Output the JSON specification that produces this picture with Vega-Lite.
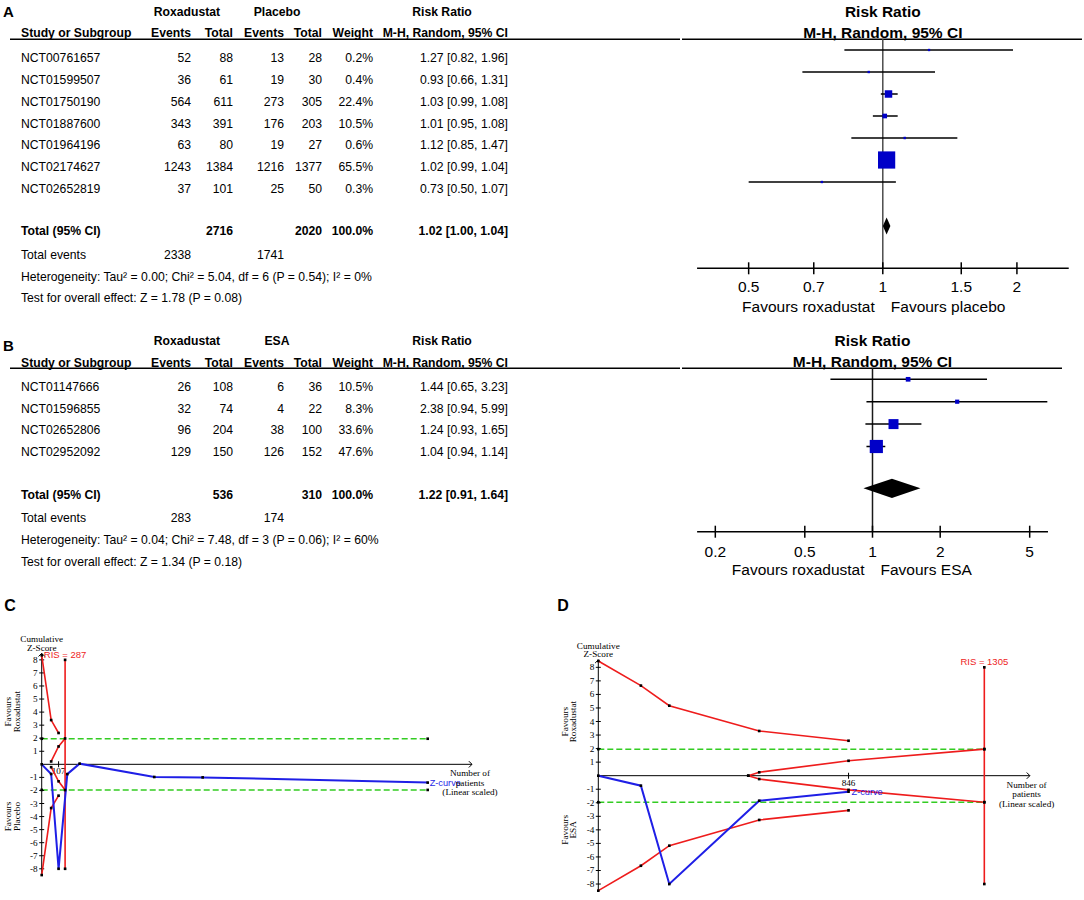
{
"$schema": "https://vega.github.io/schema/vega-lite/v6.json",
"padding": 0,
"spacing": 0,
"background": "white",
"config": {"view": {"stroke": null}, "text": {"font": "Liberation Sans", "fontSize": 12.2, "color": "black"}},
"datasets": {
"cols": [{"key":"study","col":2},{"key":"g1","col":3},{"key":"e1","col":4},{"key":"t1","col":5},{"key":"g2","col":6},{"key":"e2","col":7},{"key":"t2","col":8},{"key":"w","col":9},{"key":"g3","col":10},{"key":"ci","col":11}],
"tabA": [
{"row":-2,"kind":"group","g1":"Roxadustat","g2":"Placebo","g3":"Risk Ratio"},
{"row":-1,"kind":"header","study":"Study or Subgroup","e1":"Events","t1":"Total","e2":"Events","t2":"Total","w":"Weight","ci":"M-H, Random, 95% CI"},
{"row":0,"kind":"study","study":"NCT00761657","e1":"52","t1":"88","e2":"13","t2":"28","w":"0.2%","ci":"1.27 [0.82, 1.96]"},
{"row":1,"kind":"study","study":"NCT01599507","e1":"36","t1":"61","e2":"19","t2":"30","w":"0.4%","ci":"0.93 [0.66, 1.31]"},
{"row":2,"kind":"study","study":"NCT01750190","e1":"564","t1":"611","e2":"273","t2":"305","w":"22.4%","ci":"1.03 [0.99, 1.08]"},
{"row":3,"kind":"study","study":"NCT01887600","e1":"343","t1":"391","e2":"176","t2":"203","w":"10.5%","ci":"1.01 [0.95, 1.08]"},
{"row":4,"kind":"study","study":"NCT01964196","e1":"63","t1":"80","e2":"19","t2":"27","w":"0.6%","ci":"1.12 [0.85, 1.47]"},
{"row":5,"kind":"study","study":"NCT02174627","e1":"1243","t1":"1384","e2":"1216","t2":"1377","w":"65.5%","ci":"1.02 [0.99, 1.04]"},
{"row":6,"kind":"study","study":"NCT02652819","e1":"37","t1":"101","e2":"25","t2":"50","w":"0.3%","ci":"0.73 [0.50, 1.07]"},
{"row":8,"kind":"total","study":"Total (95% CI)","t1":"2716","t2":"2020","w":"100.0%","ci":"1.02 [1.00, 1.04]"},
{"row":9,"kind":"events","study":"Total events","e1":"2338","e2":"1741"},
{"row":10,"kind":"note","study":"Heterogeneity: Tau² = 0.00; Chi² = 5.04, df = 6 (P = 0.54); I² = 0%"},
{"row":11,"kind":"note","study":"Test for overall effect: Z = 1.78 (P = 0.08)"}
],
"tabB": [
{"row":-2,"kind":"group","g1":"Roxadustat","g2":"ESA","g3":"Risk Ratio"},
{"row":-1,"kind":"header","study":"Study or Subgroup","e1":"Events","t1":"Total","e2":"Events","t2":"Total","w":"Weight","ci":"M-H, Random, 95% CI"},
{"row":0,"kind":"study","study":"NCT01147666","e1":"26","t1":"108","e2":"6","t2":"36","w":"10.5%","ci":"1.44 [0.65, 3.23]"},
{"row":1,"kind":"study","study":"NCT01596855","e1":"32","t1":"74","e2":"4","t2":"22","w":"8.3%","ci":"2.38 [0.94, 5.99]"},
{"row":2,"kind":"study","study":"NCT02652806","e1":"96","t1":"204","e2":"38","t2":"100","w":"33.6%","ci":"1.24 [0.93, 1.65]"},
{"row":3,"kind":"study","study":"NCT02952092","e1":"129","t1":"150","e2":"126","t2":"152","w":"47.6%","ci":"1.04 [0.94, 1.14]"},
{"row":5,"kind":"total","study":"Total (95% CI)","t1":"536","t2":"310","w":"100.0%","ci":"1.22 [0.91, 1.64]"},
{"row":6,"kind":"events","study":"Total events","e1":"283","e2":"174"},
{"row":7,"kind":"note","study":"Heterogeneity: Tau² = 0.04; Chi² = 7.48, df = 3 (P = 0.06); I² = 60%"},
{"row":8,"kind":"note","study":"Test for overall effect: Z = 1.34 (P = 0.18)"}
],
"forA": [
{"row":0,"rr":1.27,"lo":0.82,"hi":1.96,"w":0.2},
{"row":1,"rr":0.93,"lo":0.66,"hi":1.31,"w":0.4},
{"row":2,"rr":1.03,"lo":0.99,"hi":1.08,"w":22.4},
{"row":3,"rr":1.01,"lo":0.95,"hi":1.08,"w":10.5},
{"row":4,"rr":1.12,"lo":0.85,"hi":1.47,"w":0.6},
{"row":5,"rr":1.02,"lo":0.99,"hi":1.04,"w":65.5},
{"row":6,"rr":0.73,"lo":0.50,"hi":1.07,"w":0.3}
],
"totA": [{"row":8,"rr":1.02,"lo":1.00,"hi":1.04}],
"forB": [
{"row":0,"rr":1.44,"lo":0.65,"hi":3.23,"w":10.5},
{"row":1,"rr":2.38,"lo":0.94,"hi":5.99,"w":8.3},
{"row":2,"rr":1.24,"lo":0.93,"hi":1.65,"w":33.6},
{"row":3,"rr":1.04,"lo":0.94,"hi":1.14,"w":47.6}
],
"totB": [{"row":5,"rr":1.22,"lo":0.91,"hi":1.64}],
"ticksA": [{"v":0.5,"l":"0.5"},{"v":0.7,"l":"0.7"},{"v":1,"l":"1"},{"v":1.5,"l":"1.5"},{"v":2,"l":"2"}],
"ticksB": [{"v":0.2,"l":"0.2"},{"v":0.5,"l":"0.5"},{"v":1,"l":"1"},{"v":2,"l":"2"},{"v":5,"l":"5"}],
"zt": [{"v":-8,"l":"-8"},{"v":-7,"l":"-7"},{"v":-6,"l":"-6"},{"v":-5,"l":"-5"},{"v":-4,"l":"-4"},{"v":-3,"l":"-3"},{"v":-2,"l":"-2"},{"v":-1,"l":"-1"},{"v":1,"l":"1"},{"v":2,"l":"2"},{"v":3,"l":"3"},{"v":4,"l":"4"},{"v":5,"l":"5"},{"v":6,"l":"6"},{"v":7,"l":"7"},{"v":8,"l":"8"}],
"tsaC": [
{"s":"up","n":0,"z":8.35},{"s":"up","n":116,"z":3.39},{"s":"up","n":207,"z":2.4},
{"s":"lo","n":0,"z":-8.48},{"s":"lo","n":116,"z":-3.35},{"s":"lo","n":207,"z":-2.4},
{"s":"iu","n":116,"z":0.22},{"s":"iu","n":207,"z":1.37},{"s":"iu","n":287,"z":1.98},
{"s":"il","n":116,"z":-0.22},{"s":"il","n":207,"z":-1.3},{"s":"il","n":287,"z":-1.97},
{"s":"ris","n":287,"z":8},{"s":"ris","n":287,"z":-8},
{"s":"z","n":0,"z":0},{"s":"z","n":116,"z":-0.74},{"s":"z","n":207,"z":-8},{"s":"z","n":314,"z":-0.75},{"s":"z","n":465,"z":0.05},{"s":"z","n":1381,"z":-0.97},{"s":"z","n":1975,"z":-1.0},{"s":"z","n":4736,"z":-1.4},
{"s":"gu","n":0,"z":1.96},{"s":"gu","n":4736,"z":1.96},
{"s":"gl","n":0,"z":-1.96},{"s":"gl","n":4736,"z":-1.96}
],
"tsaD": [
{"s":"up","n":0,"z":8.47},{"s":"up","n":144,"z":6.65},{"s":"up","n":240,"z":5.17},{"s":"up","n":544,"z":3.3},{"s":"up","n":846,"z":2.58},
{"s":"lo","n":0,"z":-8.49},{"s":"lo","n":144,"z":-6.65},{"s":"lo","n":240,"z":-5.17},{"s":"lo","n":544,"z":-3.27},{"s":"lo","n":846,"z":-2.56},
{"s":"iu","n":507,"z":0},{"s":"iu","n":544,"z":0.25},{"s":"iu","n":846,"z":1.1},{"s":"iu","n":1305,"z":1.96},
{"s":"il","n":507,"z":0},{"s":"il","n":544,"z":-0.25},{"s":"il","n":846,"z":-1.05},{"s":"il","n":1305,"z":-1.96},
{"s":"ris","n":1305,"z":8},{"s":"ris","n":1305,"z":-8},
{"s":"z","n":0,"z":0},{"s":"z","n":144,"z":-0.74},{"s":"z","n":240,"z":-8},{"s":"z","n":544,"z":-1.85},{"s":"z","n":846,"z":-1.18},
{"s":"gu","n":0,"z":1.96},{"s":"gu","n":1305,"z":1.96},
{"s":"gl","n":0,"z":-1.96},{"s":"gl","n":1305,"z":-1.96}
]
},
"vconcat": [
{"hconcat": [
{"width": 680, "height": 320,
 "layer": [
  {"data": {"name": "tabA"},
   "transform": [
    {"fold": ["study","g1","e1","t1","g2","e2","t2","w","g3","ci"], "as": ["key","text"]},
    {"filter": "isValid(datum.text)"},
    {"lookup": "key", "from": {"data": {"name": "cols"}, "key": "key", "fields": ["col"]}}
   ],
   "layer": [
    {"transform": [{"filter": "datum.key == 'study' && datum.kind != 'header' && datum.kind != 'total'"}],
     "mark": {"type": "text", "align": "left", "baseline": "middle"},
     "encoding": {"x": {"field": "col", "type": "quantitative", "axis": null, "scale": {"domain": [0,1,2,3,4,5,6,7,8,9,10,11,12], "range": [3,10,21,187,191,233,277,284,322,373,442,508,680], "nice": false, "zero": false}},
                  "y": {"field": "row", "type": "quantitative", "axis": null, "scale": {"domain": [-2,-1,-0.5,0,6,8,9,10,11], "range": [12.3,33.3,39.3,57.7,189.3,231,255,276.7,298.3], "nice": false, "zero": false}},
                  "text": {"field": "text"}}},
    {"transform": [{"filter": "datum.key == 'study' && (datum.kind == 'header' || datum.kind == 'total')"}],
     "mark": {"type": "text", "align": "left", "baseline": "middle", "fontWeight": "bold"},
     "encoding": {"x": {"field": "col", "type": "quantitative", "axis": null, "scale": {"domain": [0,1,2,3,4,5,6,7,8,9,10,11,12], "range": [3,10,21,187,191,233,277,284,322,373,442,508,680], "nice": false, "zero": false}},
                  "y": {"field": "row", "type": "quantitative", "axis": null, "scale": {"domain": [-2,-1,-0.5,0,6,8,9,10,11], "range": [12.3,33.3,39.3,57.7,189.3,231,255,276.7,298.3], "nice": false, "zero": false}},
                  "text": {"field": "text"}}},
    {"transform": [{"filter": "indexof(['e1','t1','e2','t2','w','ci'], datum.key) >= 0 && datum.kind != 'header' && datum.kind != 'total'"}],
     "mark": {"type": "text", "align": "right", "baseline": "middle"},
     "encoding": {"x": {"field": "col", "type": "quantitative", "axis": null, "scale": {"domain": [0,1,2,3,4,5,6,7,8,9,10,11,12], "range": [3,10,21,187,191,233,277,284,322,373,442,508,680], "nice": false, "zero": false}},
                  "y": {"field": "row", "type": "quantitative", "axis": null, "scale": {"domain": [-2,-1,-0.5,0,6,8,9,10,11], "range": [12.3,33.3,39.3,57.7,189.3,231,255,276.7,298.3], "nice": false, "zero": false}},
                  "text": {"field": "text"}}},
    {"transform": [{"filter": "indexof(['e1','t1','e2','t2','w','ci'], datum.key) >= 0 && (datum.kind == 'header' || datum.kind == 'total')"}],
     "mark": {"type": "text", "align": "right", "baseline": "middle", "fontWeight": "bold"},
     "encoding": {"x": {"field": "col", "type": "quantitative", "axis": null, "scale": {"domain": [0,1,2,3,4,5,6,7,8,9,10,11,12], "range": [3,10,21,187,191,233,277,284,322,373,442,508,680], "nice": false, "zero": false}},
                  "y": {"field": "row", "type": "quantitative", "axis": null, "scale": {"domain": [-2,-1,-0.5,0,6,8,9,10,11], "range": [12.3,33.3,39.3,57.7,189.3,231,255,276.7,298.3], "nice": false, "zero": false}},
                  "text": {"field": "text"}}},
    {"transform": [{"filter": "indexof(['g1','g2','g3'], datum.key) >= 0"}],
     "mark": {"type": "text", "align": "center", "baseline": "middle", "fontWeight": "bold"},
     "encoding": {"x": {"field": "col", "type": "quantitative", "axis": null, "scale": {"domain": [0,1,2,3,4,5,6,7,8,9,10,11,12], "range": [3,10,21,187,191,233,277,284,322,373,442,508,680], "nice": false, "zero": false}},
                  "y": {"field": "row", "type": "quantitative", "axis": null, "scale": {"domain": [-2,-1,-0.5,0,6,8,9,10,11], "range": [12.3,33.3,39.3,57.7,189.3,231,255,276.7,298.3], "nice": false, "zero": false}},
                  "text": {"field": "text"}}}
   ]},
  {"data": {"values": [{"label": "A"}]},
   "mark": {"type": "text", "align": "left", "baseline": "middle", "fontWeight": "bold", "fontSize": 15},
   "encoding": {"x": {"datum": 0, "type": "quantitative", "axis": null, "scale": {"domain": [0,1,2,3,4,5,6,7,8,9,10,11,12], "range": [3,10,21,187,191,233,277,284,322,373,442,508,680], "nice": false, "zero": false}},
                "y": {"datum": -2, "type": "quantitative", "axis": null, "scale": {"domain": [-2,-1,-0.5,0,6,8,9,10,11], "range": [12.3,33.3,39.3,57.7,189.3,231,255,276.7,298.3], "nice": false, "zero": false}},
                "text": {"field": "label"}}},
  {"data": {"values": [{}]},
   "mark": {"type": "rule", "strokeWidth": 1.6, "color": "black"},
   "encoding": {"x": {"datum": 1, "type": "quantitative", "axis": null, "scale": {"domain": [0,1,2,3,4,5,6,7,8,9,10,11,12], "range": [3,10,21,187,191,233,277,284,322,373,442,508,680], "nice": false, "zero": false}},
                "x2": {"datum": 12},
                "y": {"datum": -0.5, "type": "quantitative", "axis": null, "scale": {"domain": [-2,-1,-0.5,0,6,8,9,10,11], "range": [12.3,33.3,39.3,57.7,189.3,231,255,276.7,298.3], "nice": false, "zero": false}}}}
 ]},
{"width": 404, "height": 320,
 "layer": [
  {"data": {"values": [{"row": -2, "t": "Risk Ratio"}, {"row": -1, "t": "M-H, Random, 95% CI"}]},
   "mark": {"type": "text", "fontWeight": "bold", "fontSize": 15.5, "align": "center", "baseline": "middle"},
   "encoding": {"x": {"datum": 1, "type": "quantitative", "axis": null, "scale": {"type": "log", "domain": [0.3543, 2.858], "nice": false}},
                "y": {"field": "row", "type": "quantitative", "axis": null, "scale": {"domain": [-2,-1,-0.5,0,6,8,9,10,11], "range": [12.3,33.3,39.3,50,182,226,268.3,287.3,307.3], "nice": false, "zero": false}},
                "text": {"field": "t"}}},
  {"data": {"values": [{}]},
   "mark": {"type": "rule", "strokeWidth": 1.6, "color": "black"},
   "encoding": {"x": {"datum": 0.3543, "type": "quantitative", "axis": null, "scale": {"type": "log", "domain": [0.3543, 2.858], "nice": false}},
                "x2": {"datum": 2.799},
                "y": {"datum": -0.5, "type": "quantitative", "axis": null, "scale": {"domain": [-2,-1,-0.5,0,6,8,9,10,11], "range": [12.3,33.3,39.3,50,182,226,268.3,287.3,307.3], "nice": false, "zero": false}}}},
  {"data": {"values": [{}]},
   "mark": {"type": "rule", "strokeWidth": 1.5, "color": "#4d4d4d"},
   "encoding": {"x": {"datum": 1, "type": "quantitative", "axis": null, "scale": {"type": "log", "domain": [0.3543, 2.858], "nice": false}},
                "y": {"datum": -0.5, "type": "quantitative", "axis": null, "scale": {"domain": [-2,-1,-0.5,0,6,8,9,10,11], "range": [12.3,33.3,39.3,50,182,226,268.3,287.3,307.3], "nice": false, "zero": false}},
                "y2": {"datum": 9}}},
  {"data": {"name": "forA"},
   "mark": {"type": "rule", "strokeWidth": 1.5, "color": "black"},
   "encoding": {"x": {"field": "lo", "type": "quantitative", "axis": null, "scale": {"type": "log", "domain": [0.3543, 2.858], "nice": false}},
                "x2": {"field": "hi"},
                "y": {"field": "row", "type": "quantitative", "axis": null, "scale": {"domain": [-2,-1,-0.5,0,6,8,9,10,11], "range": [12.3,33.3,39.3,50,182,226,268.3,287.3,307.3], "nice": false, "zero": false}}}},
  {"data": {"name": "forA"},
   "mark": {"type": "square", "color": "#0000c8", "opacity": 1, "strokeWidth": 0},
   "encoding": {"x": {"field": "rr", "type": "quantitative", "axis": null, "scale": {"type": "log", "domain": [0.3543, 2.858], "nice": false}},
                "y": {"field": "row", "type": "quantitative", "axis": null, "scale": {"domain": [-2,-1,-0.5,0,6,8,9,10,11], "range": [12.3,33.3,39.3,50,182,226,268.3,287.3,307.3], "nice": false, "zero": false}},
                "size": {"field": "w", "type": "quantitative", "legend": null, "scale": {"domain": [0,5,10,20,35,50,66], "range": [5.15,11.6,20.7,46.6,105.1,186.9,300], "zero": false, "nice": false}}}},
  {"data": {"name": "totA"},
   "mark": {"type": "point", "shape": "M-0.44,0L0,-1L0.44,0L0,1Z", "filled": true, "color": "black", "opacity": 1, "size": 289},
   "encoding": {"x": {"field": "rr", "type": "quantitative", "axis": null, "scale": {"type": "log", "domain": [0.3543, 2.858], "nice": false}},
                "y": {"field": "row", "type": "quantitative", "axis": null, "scale": {"domain": [-2,-1,-0.5,0,6,8,9,10,11], "range": [12.3,33.3,39.3,50,182,226,268.3,287.3,307.3], "nice": false, "zero": false}}}},
  {"data": {"values": [{}]},
   "mark": {"type": "rule", "strokeWidth": 1.5, "color": "black"},
   "encoding": {"x": {"datum": 0.383, "type": "quantitative", "axis": null, "scale": {"type": "log", "domain": [0.3543, 2.858], "nice": false}},
                "x2": {"datum": 2.614},
                "y": {"datum": 9, "type": "quantitative", "axis": null, "scale": {"domain": [-2,-1,-0.5,0,6,8,9,10,11], "range": [12.3,33.3,39.3,50,182,226,268.3,287.3,307.3], "nice": false, "zero": false}}}},
  {"data": {"name": "ticksA"},
   "mark": {"type": "tick", "orient": "vertical", "size": 12, "thickness": 1.5, "color": "black", "opacity": 1},
   "encoding": {"x": {"field": "v", "type": "quantitative", "axis": null, "scale": {"type": "log", "domain": [0.3543, 2.858], "nice": false}},
                "y": {"datum": 9, "type": "quantitative", "axis": null, "scale": {"domain": [-2,-1,-0.5,0,6,8,9,10,11], "range": [12.3,33.3,39.3,50,182,226,268.3,287.3,307.3], "nice": false, "zero": false}}}},
  {"data": {"name": "ticksA"},
   "mark": {"type": "text", "fontSize": 15.5, "align": "center", "baseline": "middle"},
   "encoding": {"x": {"field": "v", "type": "quantitative", "axis": null, "scale": {"type": "log", "domain": [0.3543, 2.858], "nice": false}},
                "y": {"datum": 10, "type": "quantitative", "axis": null, "scale": {"domain": [-2,-1,-0.5,0,6,8,9,10,11], "range": [12.3,33.3,39.3,50,182,226,268.3,287.3,307.3], "nice": false, "zero": false}},
                "text": {"field": "l"}}},
  {"data": {"values": [{"t": "Favours roxadustat"}]},
   "mark": {"type": "text", "fontSize": 15.5, "align": "right", "baseline": "middle", "dx": -8},
   "encoding": {"x": {"datum": 1, "type": "quantitative", "axis": null, "scale": {"type": "log", "domain": [0.3543, 2.858], "nice": false}},
                "y": {"datum": 11, "type": "quantitative", "axis": null, "scale": {"domain": [-2,-1,-0.5,0,6,8,9,10,11], "range": [12.3,33.3,39.3,50,182,226,268.3,287.3,307.3], "nice": false, "zero": false}},
                "text": {"field": "t"}}},
  {"data": {"values": [{"t": "Favours placebo"}]},
   "mark": {"type": "text", "fontSize": 15.5, "align": "left", "baseline": "middle", "dx": 8},
   "encoding": {"x": {"datum": 1, "type": "quantitative", "axis": null, "scale": {"type": "log", "domain": [0.3543, 2.858], "nice": false}},
                "y": {"datum": 11, "type": "quantitative", "axis": null, "scale": {"domain": [-2,-1,-0.5,0,6,8,9,10,11], "range": [12.3,33.3,39.3,50,182,226,268.3,287.3,307.3], "nice": false, "zero": false}},
                "text": {"field": "t"}}}
 ]}
], "spacing": 0},
{"hconcat": [
{"width": 680, "height": 270,
 "layer": [
  {"data": {"name": "tabB"},
   "transform": [
    {"fold": ["study","g1","e1","t1","g2","e2","t2","w","g3","ci"], "as": ["key","text"]},
    {"filter": "isValid(datum.text)"},
    {"lookup": "key", "from": {"data": {"name": "cols"}, "key": "key", "fields": ["col"]}}
   ],
   "layer": [
    {"transform": [{"filter": "datum.key == 'study' && datum.kind != 'header' && datum.kind != 'total'"}],
     "mark": {"type": "text", "align": "left", "baseline": "middle"},
     "encoding": {"x": {"field": "col", "type": "quantitative", "axis": null, "scale": {"domain": [0,1,2,3,4,5,6,7,8,9,10,11,12], "range": [3,10,21,187,191,233,277,284,322,373,442,508,680], "nice": false, "zero": false}},
                  "y": {"field": "row", "type": "quantitative", "axis": null, "scale": {"domain": [-2,-1,-0.5,0,3,5,6,7,8], "range": [21,42.7,48.3,66.7,132.3,175,198.3,220,241.7], "nice": false, "zero": false}},
                  "text": {"field": "text"}}},
    {"transform": [{"filter": "datum.key == 'study' && (datum.kind == 'header' || datum.kind == 'total')"}],
     "mark": {"type": "text", "align": "left", "baseline": "middle", "fontWeight": "bold"},
     "encoding": {"x": {"field": "col", "type": "quantitative", "axis": null, "scale": {"domain": [0,1,2,3,4,5,6,7,8,9,10,11,12], "range": [3,10,21,187,191,233,277,284,322,373,442,508,680], "nice": false, "zero": false}},
                  "y": {"field": "row", "type": "quantitative", "axis": null, "scale": {"domain": [-2,-1,-0.5,0,3,5,6,7,8], "range": [21,42.7,48.3,66.7,132.3,175,198.3,220,241.7], "nice": false, "zero": false}},
                  "text": {"field": "text"}}},
    {"transform": [{"filter": "indexof(['e1','t1','e2','t2','w','ci'], datum.key) >= 0 && datum.kind != 'header' && datum.kind != 'total'"}],
     "mark": {"type": "text", "align": "right", "baseline": "middle"},
     "encoding": {"x": {"field": "col", "type": "quantitative", "axis": null, "scale": {"domain": [0,1,2,3,4,5,6,7,8,9,10,11,12], "range": [3,10,21,187,191,233,277,284,322,373,442,508,680], "nice": false, "zero": false}},
                  "y": {"field": "row", "type": "quantitative", "axis": null, "scale": {"domain": [-2,-1,-0.5,0,3,5,6,7,8], "range": [21,42.7,48.3,66.7,132.3,175,198.3,220,241.7], "nice": false, "zero": false}},
                  "text": {"field": "text"}}},
    {"transform": [{"filter": "indexof(['e1','t1','e2','t2','w','ci'], datum.key) >= 0 && (datum.kind == 'header' || datum.kind == 'total')"}],
     "mark": {"type": "text", "align": "right", "baseline": "middle", "fontWeight": "bold"},
     "encoding": {"x": {"field": "col", "type": "quantitative", "axis": null, "scale": {"domain": [0,1,2,3,4,5,6,7,8,9,10,11,12], "range": [3,10,21,187,191,233,277,284,322,373,442,508,680], "nice": false, "zero": false}},
                  "y": {"field": "row", "type": "quantitative", "axis": null, "scale": {"domain": [-2,-1,-0.5,0,3,5,6,7,8], "range": [21,42.7,48.3,66.7,132.3,175,198.3,220,241.7], "nice": false, "zero": false}},
                  "text": {"field": "text"}}},
    {"transform": [{"filter": "indexof(['g1','g2','g3'], datum.key) >= 0"}],
     "mark": {"type": "text", "align": "center", "baseline": "middle", "fontWeight": "bold"},
     "encoding": {"x": {"field": "col", "type": "quantitative", "axis": null, "scale": {"domain": [0,1,2,3,4,5,6,7,8,9,10,11,12], "range": [3,10,21,187,191,233,277,284,322,373,442,508,680], "nice": false, "zero": false}},
                  "y": {"field": "row", "type": "quantitative", "axis": null, "scale": {"domain": [-2,-1,-0.5,0,3,5,6,7,8], "range": [21,42.7,48.3,66.7,132.3,175,198.3,220,241.7], "nice": false, "zero": false}},
                  "text": {"field": "text"}}}
   ]},
  {"data": {"values": [{"label": "B"}]},
   "mark": {"type": "text", "align": "left", "baseline": "middle", "fontWeight": "bold", "fontSize": 15},
   "encoding": {"x": {"datum": 0, "type": "quantitative", "axis": null, "scale": {"domain": [0,1,2,3,4,5,6,7,8,9,10,11,12], "range": [3,10,21,187,191,233,277,284,322,373,442,508,680], "nice": false, "zero": false}},
                "y": {"datum": -1.78, "type": "quantitative", "axis": null, "scale": {"domain": [-2,-1,-0.5,0,3,5,6,7,8], "range": [21,42.7,48.3,66.7,132.3,175,198.3,220,241.7], "nice": false, "zero": false}},
                "text": {"field": "label"}}},
  {"data": {"values": [{}]},
   "mark": {"type": "rule", "strokeWidth": 1.6, "color": "black"},
   "encoding": {"x": {"datum": 1, "type": "quantitative", "axis": null, "scale": {"domain": [0,1,2,3,4,5,6,7,8,9,10,11,12], "range": [3,10,21,187,191,233,277,284,322,373,442,508,680], "nice": false, "zero": false}},
                "x2": {"datum": 12},
                "y": {"datum": -0.5, "type": "quantitative", "axis": null, "scale": {"domain": [-2,-1,-0.5,0,3,5,6,7,8], "range": [21,42.7,48.3,66.7,132.3,175,198.3,220,241.7], "nice": false, "zero": false}}}}
 ]},
{"width": 404, "height": 270,
 "layer": [
  {"data": {"values": [{"row": -2, "t": "Risk Ratio"}, {"row": -1, "t": "M-H, Random, 95% CI"}]},
   "mark": {"type": "text", "fontWeight": "bold", "fontSize": 15.5, "align": "center", "baseline": "middle"},
   "encoding": {"x": {"datum": 1, "type": "quantitative", "axis": null, "scale": {"type": "log", "domain": [0.1422, 8.9], "nice": false}},
                "y": {"field": "row", "type": "quantitative", "axis": null, "scale": {"domain": [-2,-1,-0.5,0,3,5,6,7,8], "range": [20.7,42.3,48.3,59.3,126.5,168.3,211.7,231.7,250], "nice": false, "zero": false}},
                "text": {"field": "t"}}},
  {"data": {"values": [{}]},
   "mark": {"type": "rule", "strokeWidth": 1.6, "color": "black"},
   "encoding": {"x": {"datum": 0.1422, "type": "quantitative", "axis": null, "scale": {"type": "log", "domain": [0.1422, 8.9], "nice": false}},
                "x2": {"datum": 6.96},
                "y": {"datum": -0.5, "type": "quantitative", "axis": null, "scale": {"domain": [-2,-1,-0.5,0,3,5,6,7,8], "range": [20.7,42.3,48.3,59.3,126.5,168.3,211.7,231.7,250], "nice": false, "zero": false}}}},
  {"data": {"values": [{}]},
   "mark": {"type": "rule", "strokeWidth": 1.5, "color": "#1a1a1a"},
   "encoding": {"x": {"datum": 1, "type": "quantitative", "axis": null, "scale": {"type": "log", "domain": [0.1422, 8.9], "nice": false}},
                "y": {"datum": -0.5, "type": "quantitative", "axis": null, "scale": {"domain": [-2,-1,-0.5,0,3,5,6,7,8], "range": [20.7,42.3,48.3,59.3,126.5,168.3,211.7,231.7,250], "nice": false, "zero": false}},
                "y2": {"datum": 6}}},
  {"data": {"name": "forB"},
   "mark": {"type": "rule", "strokeWidth": 1.5, "color": "black"},
   "encoding": {"x": {"field": "lo", "type": "quantitative", "axis": null, "scale": {"type": "log", "domain": [0.1422, 8.9], "nice": false}},
                "x2": {"field": "hi"},
                "y": {"field": "row", "type": "quantitative", "axis": null, "scale": {"domain": [-2,-1,-0.5,0,3,5,6,7,8], "range": [20.7,42.3,48.3,59.3,126.5,168.3,211.7,231.7,250], "nice": false, "zero": false}}}},
  {"data": {"name": "forB"},
   "mark": {"type": "square", "color": "#0000c8", "opacity": 1, "strokeWidth": 0},
   "encoding": {"x": {"field": "rr", "type": "quantitative", "axis": null, "scale": {"type": "log", "domain": [0.1422, 8.9], "nice": false}},
                "y": {"field": "row", "type": "quantitative", "axis": null, "scale": {"domain": [-2,-1,-0.5,0,3,5,6,7,8], "range": [20.7,42.3,48.3,59.3,126.5,168.3,211.7,231.7,250], "nice": false, "zero": false}},
                "size": {"field": "w", "type": "quantitative", "legend": null, "scale": {"domain": [0,5,10,20,35,50,66], "range": [5.15,11.6,20.7,46.6,105.1,186.9,300], "zero": false, "nice": false}}}},
  {"data": {"name": "totB"},
   "mark": {"type": "point", "shape": "M-1,0L0,-0.337L1,0L0,0.337Z", "filled": true, "color": "black", "opacity": 1, "size": 3249},
   "encoding": {"x": {"field": "rr", "type": "quantitative", "axis": null, "scale": {"type": "log", "domain": [0.1422, 8.9], "nice": false}},
                "y": {"field": "row", "type": "quantitative", "axis": null, "scale": {"domain": [-2,-1,-0.5,0,3,5,6,7,8], "range": [20.7,42.3,48.3,59.3,126.5,168.3,211.7,231.7,250], "nice": false, "zero": false}}}},
  {"data": {"values": [{}]},
   "mark": {"type": "rule", "strokeWidth": 1.5, "color": "black"},
   "encoding": {"x": {"datum": 0.166, "type": "quantitative", "axis": null, "scale": {"type": "log", "domain": [0.1422, 8.9], "nice": false}},
                "x2": {"datum": 6.03},
                "y": {"datum": 6, "type": "quantitative", "axis": null, "scale": {"domain": [-2,-1,-0.5,0,3,5,6,7,8], "range": [20.7,42.3,48.3,59.3,126.5,168.3,211.7,231.7,250], "nice": false, "zero": false}}}},
  {"data": {"name": "ticksB"},
   "mark": {"type": "tick", "orient": "vertical", "size": 12, "thickness": 1.5, "color": "black", "opacity": 1},
   "encoding": {"x": {"field": "v", "type": "quantitative", "axis": null, "scale": {"type": "log", "domain": [0.1422, 8.9], "nice": false}},
                "y": {"datum": 6, "type": "quantitative", "axis": null, "scale": {"domain": [-2,-1,-0.5,0,3,5,6,7,8], "range": [20.7,42.3,48.3,59.3,126.5,168.3,211.7,231.7,250], "nice": false, "zero": false}}}},
  {"data": {"name": "ticksB"},
   "mark": {"type": "text", "fontSize": 15.5, "align": "center", "baseline": "middle"},
   "encoding": {"x": {"field": "v", "type": "quantitative", "axis": null, "scale": {"type": "log", "domain": [0.1422, 8.9], "nice": false}},
                "y": {"datum": 7, "type": "quantitative", "axis": null, "scale": {"domain": [-2,-1,-0.5,0,3,5,6,7,8], "range": [20.7,42.3,48.3,59.3,126.5,168.3,211.7,231.7,250], "nice": false, "zero": false}},
                "text": {"field": "l"}}},
  {"data": {"values": [{"t": "Favours roxadustat"}]},
   "mark": {"type": "text", "fontSize": 15.5, "align": "right", "baseline": "middle", "dx": -8},
   "encoding": {"x": {"datum": 1, "type": "quantitative", "axis": null, "scale": {"type": "log", "domain": [0.1422, 8.9], "nice": false}},
                "y": {"datum": 8, "type": "quantitative", "axis": null, "scale": {"domain": [-2,-1,-0.5,0,3,5,6,7,8], "range": [20.7,42.3,48.3,59.3,126.5,168.3,211.7,231.7,250], "nice": false, "zero": false}},
                "text": {"field": "t"}}},
  {"data": {"values": [{"t": "Favours ESA"}]},
   "mark": {"type": "text", "fontSize": 15.5, "align": "left", "baseline": "middle", "dx": 8},
   "encoding": {"x": {"datum": 1, "type": "quantitative", "axis": null, "scale": {"type": "log", "domain": [0.1422, 8.9], "nice": false}},
                "y": {"datum": 8, "type": "quantitative", "axis": null, "scale": {"domain": [-2,-1,-0.5,0,3,5,6,7,8], "range": [20.7,42.3,48.3,59.3,126.5,168.3,211.7,231.7,250], "nice": false, "zero": false}},
                "text": {"field": "t"}}}
 ]}
], "spacing": 0},
{"hconcat": [
{"width": 540, "height": 310,
 "layer": [
  {"data": {"name": "tsaC"}, "transform": [{"filter": "datum.s == 'gu' || datum.s == 'gl'"}],
   "mark": {"type": "line", "color": "#33cc22", "strokeWidth": 1.5, "strokeDash": [6, 3]},
   "encoding": {"x": {"field": "n", "type": "quantitative", "axis": null, "scale": {"domain": [-511.7, 6114], "nice": false, "zero": false}},
                "y": {"field": "z", "type": "quantitative", "axis": null, "scale": {"domain": [-10.39, 13.35], "nice": false, "zero": false}},
                "detail": {"field": "s"}}},
  {"data": {"values": [{}]},
   "mark": {"type": "rule", "color": "black", "strokeWidth": 1},
   "encoding": {"x": {"datum": 0, "type": "quantitative", "axis": null, "scale": {"domain": [-511.7, 6114], "nice": false, "zero": false}},
                "x2": {"datum": 5280},
                "y": {"datum": 0, "type": "quantitative", "axis": null, "scale": {"domain": [-10.39, 13.35], "nice": false, "zero": false}}}},
  {"data": {"values": [{}]},
   "mark": {"type": "rule", "color": "black", "strokeWidth": 1},
   "encoding": {"x": {"datum": 0, "type": "quantitative", "axis": null, "scale": {"domain": [-511.7, 6114], "nice": false, "zero": false}},
                "y": {"datum": -8.5, "type": "quantitative", "axis": null, "scale": {"domain": [-10.39, 13.35], "nice": false, "zero": false}},
                "y2": {"datum": 8.5}}},
  {"data": {"values": [{}]},
   "mark": {"type": "point", "shape": "M-1,1L0,0L1,1", "filled": false, "stroke": "black", "strokeWidth": 1, "size": 40, "opacity": 1},
   "encoding": {"x": {"datum": 0, "type": "quantitative", "axis": null, "scale": {"domain": [-511.7, 6114], "nice": false, "zero": false}},
                "y": {"datum": 8.5, "type": "quantitative", "axis": null, "scale": {"domain": [-10.39, 13.35], "nice": false, "zero": false}}}},
  {"data": {"values": [{}]},
   "mark": {"type": "point", "shape": "M-1,-1L0,0L-1,1", "filled": false, "stroke": "black", "strokeWidth": 1, "size": 40, "opacity": 1},
   "encoding": {"x": {"datum": 5280, "type": "quantitative", "axis": null, "scale": {"domain": [-511.7, 6114], "nice": false, "zero": false}},
                "y": {"datum": 0, "type": "quantitative", "axis": null, "scale": {"domain": [-10.39, 13.35], "nice": false, "zero": false}}}},
  {"data": {"name": "zt"},
   "mark": {"type": "tick", "orient": "horizontal", "size": 5, "thickness": 1, "color": "black", "opacity": 1},
   "encoding": {"x": {"datum": 0, "type": "quantitative", "axis": null, "scale": {"domain": [-511.7, 6114], "nice": false, "zero": false}},
                "y": {"field": "v", "type": "quantitative", "axis": null, "scale": {"domain": [-10.39, 13.35], "nice": false, "zero": false}}}},
  {"data": {"name": "zt"},
   "mark": {"type": "text", "font": "Liberation Serif", "fontSize": 9.2, "align": "right", "baseline": "middle", "dx": -4},
   "encoding": {"x": {"datum": 0, "type": "quantitative", "axis": null, "scale": {"domain": [-511.7, 6114], "nice": false, "zero": false}},
                "y": {"field": "v", "type": "quantitative", "axis": null, "scale": {"domain": [-10.39, 13.35], "nice": false, "zero": false}},
                "text": {"field": "l"}}},
  {"data": {"values": [{"n": 207, "l": "107"}]},
   "mark": {"type": "tick", "orient": "vertical", "size": 6, "thickness": 1, "color": "black", "opacity": 1},
   "encoding": {"x": {"field": "n", "type": "quantitative", "axis": null, "scale": {"domain": [-511.7, 6114], "nice": false, "zero": false}},
                "y": {"datum": 0, "type": "quantitative", "axis": null, "scale": {"domain": [-10.39, 13.35], "nice": false, "zero": false}}}},
  {"data": {"values": [{"n": 207, "l": "107"}]},
   "mark": {"type": "text", "font": "Liberation Serif", "fontSize": 9.2, "align": "center", "baseline": "top", "dy": 3},
   "encoding": {"x": {"field": "n", "type": "quantitative", "axis": null, "scale": {"domain": [-511.7, 6114], "nice": false, "zero": false}},
                "y": {"datum": 0, "type": "quantitative", "axis": null, "scale": {"domain": [-10.39, 13.35], "nice": false, "zero": false}},
                "text": {"field": "l"}}},
  {"data": {"name": "tsaC"}, "transform": [{"filter": "indexof(['up','lo','iu','il','ris'], datum.s) >= 0"}],
   "mark": {"type": "line", "color": "#ee1c1c", "strokeWidth": 1.6},
   "encoding": {"x": {"field": "n", "type": "quantitative", "axis": null, "scale": {"domain": [-511.7, 6114], "nice": false, "zero": false}},
                "y": {"field": "z", "type": "quantitative", "axis": null, "scale": {"domain": [-10.39, 13.35], "nice": false, "zero": false}},
                "detail": {"field": "s"}}},
  {"data": {"name": "tsaC"}, "transform": [{"filter": "datum.s == 'z'"}],
   "mark": {"type": "line", "color": "#1f1fe6", "strokeWidth": 2},
   "encoding": {"x": {"field": "n", "type": "quantitative", "axis": null, "scale": {"domain": [-511.7, 6114], "nice": false, "zero": false}},
                "y": {"field": "z", "type": "quantitative", "axis": null, "scale": {"domain": [-10.39, 13.35], "nice": false, "zero": false}}}},
  {"data": {"name": "tsaC"},
   "mark": {"type": "square", "color": "black", "size": 7, "opacity": 1},
   "encoding": {"x": {"field": "n", "type": "quantitative", "axis": null, "scale": {"domain": [-511.7, 6114], "nice": false, "zero": false}},
                "y": {"field": "z", "type": "quantitative", "axis": null, "scale": {"domain": [-10.39, 13.35], "nice": false, "zero": false}}}},
  {"data": {"values": [{}]},
   "mark": {"type": "text", "text": ["Cumulative", "Z-Score"], "font": "Liberation Serif", "fontSize": 9.2, "lineHeight": 8.3, "align": "center", "baseline": "middle"},
   "encoding": {"x": {"datum": 0, "type": "quantitative", "axis": null, "scale": {"domain": [-511.7, 6114], "nice": false, "zero": false}},
                "y": {"datum": 9.57, "type": "quantitative", "axis": null, "scale": {"domain": [-10.39, 13.35], "nice": false, "zero": false}}}},
  {"data": {"values": [{}]},
   "mark": {"type": "text", "text": "RIS = 287", "fontSize": 9.5, "color": "#ee1c1c", "align": "center", "baseline": "middle"},
   "encoding": {"x": {"datum": 287, "type": "quantitative", "axis": null, "scale": {"domain": [-511.7, 6114], "nice": false, "zero": false}},
                "y": {"datum": 8.37, "type": "quantitative", "axis": null, "scale": {"domain": [-10.39, 13.35], "nice": false, "zero": false}}}},
  {"data": {"values": [{}]},
   "mark": {"type": "text", "text": ["Favours", "Roxadustat"], "angle": 270, "font": "Liberation Serif", "fontSize": 9.2, "lineHeight": 8.4, "align": "center", "baseline": "middle"},
   "encoding": {"x": {"datum": -410, "type": "quantitative", "axis": null, "scale": {"domain": [-511.7, 6114], "nice": false, "zero": false}},
                "y": {"datum": 4.03, "type": "quantitative", "axis": null, "scale": {"domain": [-10.39, 13.35], "nice": false, "zero": false}}}},
  {"data": {"values": [{}]},
   "mark": {"type": "text", "text": ["Favours", "Placebo"], "angle": 270, "font": "Liberation Serif", "fontSize": 9.2, "lineHeight": 8.4, "align": "center", "baseline": "middle"},
   "encoding": {"x": {"datum": -410, "type": "quantitative", "axis": null, "scale": {"domain": [-511.7, 6114], "nice": false, "zero": false}},
                "y": {"datum": -4.0, "type": "quantitative", "axis": null, "scale": {"domain": [-10.39, 13.35], "nice": false, "zero": false}}}},
  {"data": {"values": [{}]},
   "mark": {"type": "text", "text": "Z-curve", "fontSize": 9.2, "color": "#1f1fe6", "align": "left", "baseline": "middle", "dx": 2},
   "encoding": {"x": {"datum": 4736, "type": "quantitative", "axis": null, "scale": {"domain": [-511.7, 6114], "nice": false, "zero": false}},
                "y": {"datum": -1.41, "type": "quantitative", "axis": null, "scale": {"domain": [-10.39, 13.35], "nice": false, "zero": false}}}},
  {"data": {"values": [{}]},
   "mark": {"type": "text", "text": ["Number of", "patients", "(Linear scaled)"], "font": "Liberation Serif", "fontSize": 9.2, "lineHeight": 9.3, "align": "center", "baseline": "middle"},
   "encoding": {"x": {"datum": 5255, "type": "quantitative", "axis": null, "scale": {"domain": [-511.7, 6114], "nice": false, "zero": false}},
                "y": {"datum": -0.69, "type": "quantitative", "axis": null, "scale": {"domain": [-10.39, 13.35], "nice": false, "zero": false}}}},
  {"data": {"values": [{}]},
   "mark": {"type": "text", "text": "C", "fontSize": 16, "fontWeight": "bold", "align": "center", "baseline": "middle"},
   "encoding": {"x": {"datum": -389, "type": "quantitative", "axis": null, "scale": {"domain": [-511.7, 6114], "nice": false, "zero": false}},
                "y": {"datum": 12.12, "type": "quantitative", "axis": null, "scale": {"domain": [-10.39, 13.35], "nice": false, "zero": false}}}}
 ]},
{"width": 544, "height": 310,
 "layer": [
  {"data": {"name": "tsaD"}, "transform": [{"filter": "datum.s == 'gu' || datum.s == 'gl'"}],
   "mark": {"type": "line", "color": "#33cc22", "strokeWidth": 1.5, "strokeDash": [6, 3]},
   "encoding": {"x": {"field": "n", "type": "quantitative", "axis": null, "scale": {"domain": [-197.1, 1642], "nice": false, "zero": false}},
                "y": {"field": "z", "type": "quantitative", "axis": null, "scale": {"domain": [-9.18, 13.71], "nice": false, "zero": false}},
                "detail": {"field": "s"}}},
  {"data": {"values": [{}]},
   "mark": {"type": "rule", "color": "black", "strokeWidth": 1},
   "encoding": {"x": {"datum": 0, "type": "quantitative", "axis": null, "scale": {"domain": [-197.1, 1642], "nice": false, "zero": false}},
                "x2": {"datum": 1459},
                "y": {"datum": 0, "type": "quantitative", "axis": null, "scale": {"domain": [-9.18, 13.71], "nice": false, "zero": false}}}},
  {"data": {"values": [{}]},
   "mark": {"type": "rule", "color": "black", "strokeWidth": 1},
   "encoding": {"x": {"datum": 0, "type": "quantitative", "axis": null, "scale": {"domain": [-197.1, 1642], "nice": false, "zero": false}},
                "y": {"datum": -8.5, "type": "quantitative", "axis": null, "scale": {"domain": [-9.18, 13.71], "nice": false, "zero": false}},
                "y2": {"datum": 8.55}}},
  {"data": {"values": [{}]},
   "mark": {"type": "point", "shape": "M-1,1L0,0L1,1", "filled": false, "stroke": "black", "strokeWidth": 1, "size": 40, "opacity": 1},
   "encoding": {"x": {"datum": 0, "type": "quantitative", "axis": null, "scale": {"domain": [-197.1, 1642], "nice": false, "zero": false}},
                "y": {"datum": 8.55, "type": "quantitative", "axis": null, "scale": {"domain": [-9.18, 13.71], "nice": false, "zero": false}}}},
  {"data": {"values": [{}]},
   "mark": {"type": "point", "shape": "M-1,-1L0,0L-1,1", "filled": false, "stroke": "black", "strokeWidth": 1, "size": 40, "opacity": 1},
   "encoding": {"x": {"datum": 1459, "type": "quantitative", "axis": null, "scale": {"domain": [-197.1, 1642], "nice": false, "zero": false}},
                "y": {"datum": 0, "type": "quantitative", "axis": null, "scale": {"domain": [-9.18, 13.71], "nice": false, "zero": false}}}},
  {"data": {"name": "zt"},
   "mark": {"type": "tick", "orient": "horizontal", "size": 5, "thickness": 1, "color": "black", "opacity": 1},
   "encoding": {"x": {"datum": 0, "type": "quantitative", "axis": null, "scale": {"domain": [-197.1, 1642], "nice": false, "zero": false}},
                "y": {"field": "v", "type": "quantitative", "axis": null, "scale": {"domain": [-9.18, 13.71], "nice": false, "zero": false}}}},
  {"data": {"name": "zt"},
   "mark": {"type": "text", "font": "Liberation Serif", "fontSize": 9.2, "align": "right", "baseline": "middle", "dx": -4},
   "encoding": {"x": {"datum": 0, "type": "quantitative", "axis": null, "scale": {"domain": [-197.1, 1642], "nice": false, "zero": false}},
                "y": {"field": "v", "type": "quantitative", "axis": null, "scale": {"domain": [-9.18, 13.71], "nice": false, "zero": false}},
                "text": {"field": "l"}}},
  {"data": {"values": [{"n": 846, "l": "846"}]},
   "mark": {"type": "tick", "orient": "vertical", "size": 6, "thickness": 1, "color": "black", "opacity": 1},
   "encoding": {"x": {"field": "n", "type": "quantitative", "axis": null, "scale": {"domain": [-197.1, 1642], "nice": false, "zero": false}},
                "y": {"datum": 0, "type": "quantitative", "axis": null, "scale": {"domain": [-9.18, 13.71], "nice": false, "zero": false}}}},
  {"data": {"values": [{"n": 846, "l": "846"}]},
   "mark": {"type": "text", "font": "Liberation Serif", "fontSize": 9.2, "align": "center", "baseline": "top", "dy": 3},
   "encoding": {"x": {"field": "n", "type": "quantitative", "axis": null, "scale": {"domain": [-197.1, 1642], "nice": false, "zero": false}},
                "y": {"datum": 0, "type": "quantitative", "axis": null, "scale": {"domain": [-9.18, 13.71], "nice": false, "zero": false}},
                "text": {"field": "l"}}},
  {"data": {"name": "tsaD"}, "transform": [{"filter": "indexof(['up','lo','iu','il','ris'], datum.s) >= 0"}],
   "mark": {"type": "line", "color": "#ee1c1c", "strokeWidth": 1.6},
   "encoding": {"x": {"field": "n", "type": "quantitative", "axis": null, "scale": {"domain": [-197.1, 1642], "nice": false, "zero": false}},
                "y": {"field": "z", "type": "quantitative", "axis": null, "scale": {"domain": [-9.18, 13.71], "nice": false, "zero": false}},
                "detail": {"field": "s"}}},
  {"data": {"name": "tsaD"}, "transform": [{"filter": "datum.s == 'z'"}],
   "mark": {"type": "line", "color": "#1f1fe6", "strokeWidth": 2},
   "encoding": {"x": {"field": "n", "type": "quantitative", "axis": null, "scale": {"domain": [-197.1, 1642], "nice": false, "zero": false}},
                "y": {"field": "z", "type": "quantitative", "axis": null, "scale": {"domain": [-9.18, 13.71], "nice": false, "zero": false}}}},
  {"data": {"name": "tsaD"},
   "mark": {"type": "square", "color": "black", "size": 7, "opacity": 1},
   "encoding": {"x": {"field": "n", "type": "quantitative", "axis": null, "scale": {"domain": [-197.1, 1642], "nice": false, "zero": false}},
                "y": {"field": "z", "type": "quantitative", "axis": null, "scale": {"domain": [-9.18, 13.71], "nice": false, "zero": false}}}},
  {"data": {"values": [{}]},
   "mark": {"type": "text", "text": ["Cumulative", "Z-Score"], "font": "Liberation Serif", "fontSize": 9.2, "lineHeight": 8.6, "align": "center", "baseline": "middle"},
   "encoding": {"x": {"datum": 0, "type": "quantitative", "axis": null, "scale": {"domain": [-197.1, 1642], "nice": false, "zero": false}},
                "y": {"datum": 9.6, "type": "quantitative", "axis": null, "scale": {"domain": [-9.18, 13.71], "nice": false, "zero": false}}}},
  {"data": {"values": [{}]},
   "mark": {"type": "text", "text": "RIS = 1305", "fontSize": 9.5, "color": "#ee1c1c", "align": "center", "baseline": "middle"},
   "encoding": {"x": {"datum": 1305, "type": "quantitative", "axis": null, "scale": {"domain": [-197.1, 1642], "nice": false, "zero": false}},
                "y": {"datum": 8.42, "type": "quantitative", "axis": null, "scale": {"domain": [-9.18, 13.71], "nice": false, "zero": false}}}},
  {"data": {"values": [{}]},
   "mark": {"type": "text", "text": ["Favours", "Roxadustat"], "angle": 270, "font": "Liberation Serif", "fontSize": 9.2, "lineHeight": 8.4, "align": "center", "baseline": "middle"},
   "encoding": {"x": {"datum": -112.6, "type": "quantitative", "axis": null, "scale": {"domain": [-197.1, 1642], "nice": false, "zero": false}},
                "y": {"datum": 3.99, "type": "quantitative", "axis": null, "scale": {"domain": [-9.18, 13.71], "nice": false, "zero": false}}}},
  {"data": {"values": [{}]},
   "mark": {"type": "text", "text": ["Favours", "ESA"], "angle": 270, "font": "Liberation Serif", "fontSize": 9.2, "lineHeight": 8.4, "align": "center", "baseline": "middle"},
   "encoding": {"x": {"datum": -112.6, "type": "quantitative", "axis": null, "scale": {"domain": [-197.1, 1642], "nice": false, "zero": false}},
                "y": {"datum": -4.0, "type": "quantitative", "axis": null, "scale": {"domain": [-9.18, 13.71], "nice": false, "zero": false}}}},
  {"data": {"values": [{}]},
   "mark": {"type": "text", "text": "Z-curve", "fontSize": 9.2, "color": "#1f1fe6", "align": "left", "baseline": "middle", "dx": 3},
   "encoding": {"x": {"datum": 846, "type": "quantitative", "axis": null, "scale": {"domain": [-197.1, 1642], "nice": false, "zero": false}},
                "y": {"datum": -1.18, "type": "quantitative", "axis": null, "scale": {"domain": [-9.18, 13.71], "nice": false, "zero": false}}}},
  {"data": {"values": [{}]},
   "mark": {"type": "text", "text": ["Number of", "patients", "(Linear scaled)"], "font": "Liberation Serif", "fontSize": 9.2, "lineHeight": 9.3, "align": "center", "baseline": "middle"},
   "encoding": {"x": {"datum": 1448, "type": "quantitative", "axis": null, "scale": {"domain": [-197.1, 1642], "nice": false, "zero": false}},
                "y": {"datum": -0.69, "type": "quantitative", "axis": null, "scale": {"domain": [-9.18, 13.71], "nice": false, "zero": false}}}},
  {"data": {"values": [{}]},
   "mark": {"type": "text", "text": "D", "fontSize": 16, "fontWeight": "bold", "align": "center", "baseline": "middle"},
   "encoding": {"x": {"datum": -119, "type": "quantitative", "axis": null, "scale": {"domain": [-197.1, 1642], "nice": false, "zero": false}},
                "y": {"datum": 12.53, "type": "quantitative", "axis": null, "scale": {"domain": [-9.18, 13.71], "nice": false, "zero": false}}}}
 ]}
], "spacing": 0}
]
}
